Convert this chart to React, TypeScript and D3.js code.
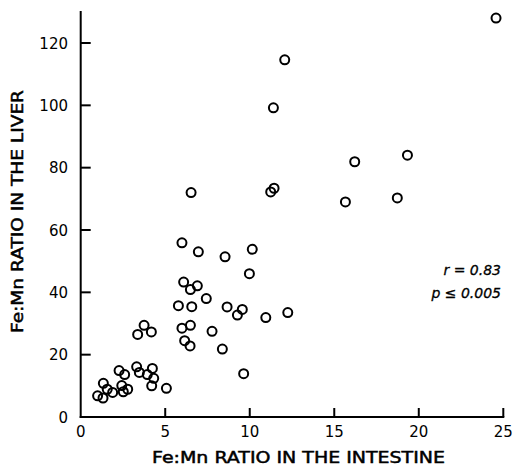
import React from "react";
import * as d3 from "d3";

const intestine = [24.57, 12.07, 11.4, 16.21, 19.33, 6.53, 11.24, 11.44, 15.66, 18.73,
  5.99, 6.96, 8.54, 10.15, 9.98, 6.09, 6.9, 6.49, 7.43, 5.78,
  6.57, 8.66, 9.56, 9.27, 10.95, 12.25, 5.99, 6.49, 7.77, 6.15,
  6.47, 8.38, 9.64, 3.75, 3.37, 4.18, 3.31, 3.47, 4.24, 3.94,
  4.32, 4.2, 5.07, 2.27, 2.6, 2.43, 2.78, 2.52, 1.34, 1.57,
  1.89, 1.0, 1.32];
const liver = [128.0, 114.6, 99.2, 81.9, 84.0, 72.0, 72.2, 73.4, 69.0, 70.3,
  55.9, 53.0, 51.4, 53.8, 46.0, 43.3, 42.1, 40.9, 38.0, 35.7,
  35.4, 35.3, 34.5, 32.7, 31.9, 33.5, 28.5, 29.4, 27.5, 24.5,
  22.8, 21.8, 13.9, 29.4, 26.5, 27.3, 16.1, 14.3, 15.6, 13.6,
  12.4, 10.0, 9.2, 14.9, 13.6, 10.1, 8.9, 8.1, 10.8, 8.9,
  7.9, 6.8, 6.1];
const xTicks = [0, 5, 10, 15, 20, 25];
const yTicks = [0, 20, 40, 60, 80, 100, 120];
const xTitle = "Fe:Mn RATIO IN THE INTESTINE";
const yTitle = "Fe:Mn RATIO IN THE LIVER";
const annotations = ["r = 0.83", "p \u2264 0.005"];

export default function App() {
  const W = 513, H = 466;
  const x = d3.scaleLinear().domain([0, 25]).range([80.7, 503.3]);
  const y = d3.scaleLinear().domain([0, 120]).range([417, 43]);
  const font = "'DejaVu Sans', sans-serif";
  return (
    <svg width={W} height={H} style={{ position: "absolute", left: 0, top: 0, background: "#fff" }}>
      <g stroke="#000" strokeWidth={2} fill="none">
        <line x1={x(0)} x2={x(0)} y1={y(0) + 1} y2={11} />
        <line x1={x(0) - 1} x2={x(25) + 1} y1={y(0)} y2={y(0)} />
        {xTicks.slice(1).map((t) => (
          <line key={"xt" + t} x1={x(t)} x2={x(t)} y1={y(0)} y2={y(0) - 9} />
        ))}
        {yTicks.slice(1).map((t) => (
          <line key={"yt" + t} x1={x(0)} x2={x(0) + 10} y1={y(t)} y2={y(t)} />
        ))}
      </g>
      <g fontFamily={font} fontSize={15} fill="#000">
        {xTicks.map((t) => (
          <text key={"xl" + t} x={x(t)} y={437} textAnchor="middle">{t}</text>
        ))}
        {yTicks.map((t) => (
          <text key={"yl" + t} x={68} y={y(t) + 5.5} textAnchor="end">{t}</text>
        ))}
      </g>
      <text x={298.5} y={463} textAnchor="middle" fontFamily={font} fontSize={16} stroke="#000" strokeWidth={0.5}
        textLength={293} lengthAdjust="spacingAndGlyphs">{xTitle}</text>
      <text transform="translate(23,211.5) rotate(-90)" textAnchor="middle" fontFamily={font} fontSize={16}
        stroke="#000" strokeWidth={0.5} textLength={243} lengthAdjust="spacingAndGlyphs">{yTitle}</text>
      <g fontFamily={font} fontSize={14} fontStyle="italic" textAnchor="end" stroke="#000" strokeWidth={0.3}>
        <text x={501} y={275}>{annotations[0]}</text>
        <text x={501} y={298}>{annotations[1]}</text>
      </g>
      <g stroke="#000" strokeWidth={2} fill="none">
        {intestine.map((v, i) => (
          <circle key={i} cx={x(v)} cy={y(liver[i])} r={4.5} />
        ))}
      </g>
    </svg>
  );
}
